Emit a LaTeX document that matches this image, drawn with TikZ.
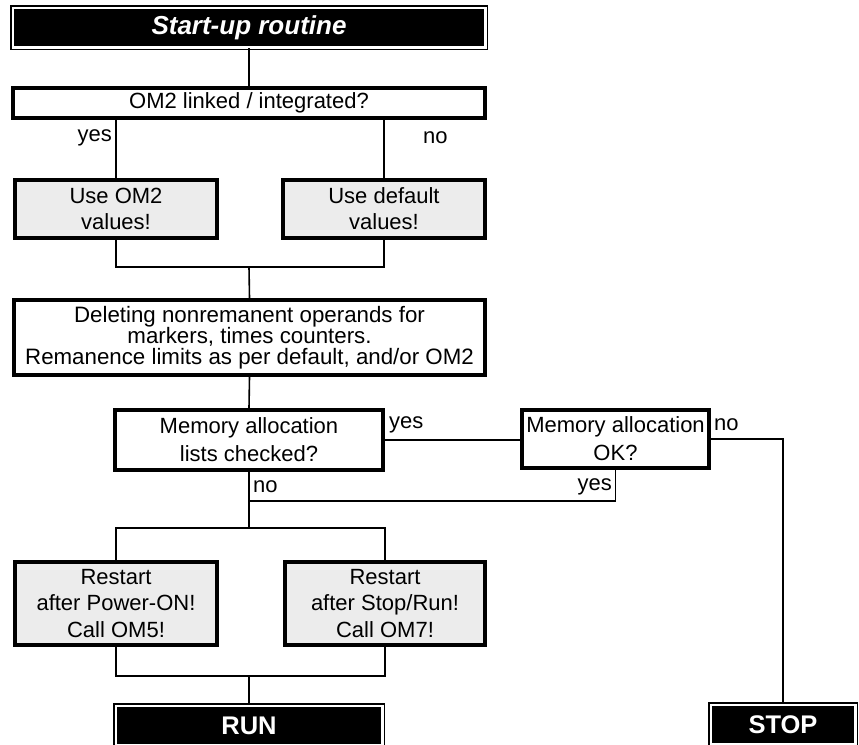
\documentclass[tikz,border=0pt]{standalone}
\usepackage{fontspec}
\setmainfont{Liberation Sans}
\definecolor{boxgray}{RGB}{236,236,236}
\begin{document}
\begin{tikzpicture}[x=1pt,y=-1pt,
  box/.style={draw=black, line width=3.8pt, fill=#1, inner sep=0pt, align=center,
    font=\fontsize{22}{26}\selectfont},
  box/.default=white,
  term/.style={draw=black, double=white, double distance=2.2pt, line width=1.5pt,
    fill=black, text=white, inner sep=0pt, minimum height=39.8pt,
    font=\fontsize{25.5}{30}\selectfont\bfseries},
  link/.style={line width=1.6pt},
  lbl/.style={inner sep=0pt, font=\fontsize{22}{26}\selectfont}]
\path[use as bounding box, clip] (0,0) rectangle (859,744);

% terminals
\node[term, font=\fontsize{26}{30}\selectfont\bfseries\itshape, minimum width=472.8pt]
  (start) at (249,27.5) {Start-up routine};
\node[term, minimum width=266.8pt] (run) at (249,725.5) {RUN};
\node[term, minimum width=144.8pt] (stop) at (783,724.5) {STOP};

% process and decision boxes
\node[box, minimum width=472pt, minimum height=30pt] (om2) at (249,103)
  {OM2 linked / integrated?};
\node[box=boxgray, minimum width=202pt, minimum height=58pt] (useom2) at (116,209)
  {Use OM2\\values!};
\node[box=boxgray, minimum width=202pt, minimum height=58pt] (usedef) at (384,209)
  {Use default\\values!};
\node[box, minimum width=471pt, minimum height=75pt,
  font=\fontsize{22.3}{20.5}\selectfont] (del) at (249.5,337.5)
  {Deleting nonremanent operands for\\markers, times counters.\\Remanence limits as per default, and/or OM2};
\node[box, minimum width=268pt, minimum height=60pt,
  font=\fontsize{22}{28}\selectfont] (mem1) at (249,440)
  {Memory allocation\\lists checked?};
\node[box, minimum width=187pt, minimum height=58pt,
  font=\fontsize{22}{28}\selectfont] (mem2) at (615.5,439)
  {Memory allocation\\OK?};
\node[box=boxgray, minimum width=202pt, minimum height=83pt,
  font=\fontsize{22}{26.5}\selectfont] (rs1) at (116,603.5)
  {Restart\\after Power-ON!\\Call OM5!};
\node[box=boxgray, minimum width=200pt, minimum height=83pt,
  font=\fontsize{22}{26.5}\selectfont] (rs2) at (385,603.5)
  {Restart\\after Stop/Run!\\Call OM7!};

% junction points
\coordinate (j1) at (249,267);
\coordinate (j2) at (249,501);
\coordinate (j3) at (249,528);
\coordinate (j4) at (249,676);

% connectors
\draw[link] (start.south) -- (om2.north);
\draw[link] (om2.south -| useom2.north) -- (useom2.north);
\draw[link] (om2.south -| usedef.north) -- (usedef.north);
\draw[link] (useom2.south) -- (useom2.south |- j1) -- (usedef.south |- j1) -- (usedef.south);
\draw[link] (j1) -- (del.north);
\draw[link] (del.south) -- (mem1.north);
\draw[link] (mem1.east) -- (mem1.east -| mem2.west);
\draw[link] (mem2.east) -| (stop.north);
\draw[link] (mem2.south) -- (mem2.south |- j2) -- (j2);
\draw[link] (mem1.south) -- (j3);
\draw[link] (rs1.north) -- (rs1.north |- j3) -- (rs2.north |- j3) -- (rs2.north);
\draw[link] (rs1.south) -- (rs1.south |- j4) -- (rs2.south |- j4) -- (rs2.south);
\draw[link] (j4) -- (run.north);

% branch labels
\node[lbl, anchor=east] (l1) at (112,138) {yes};
\node[lbl, anchor=west] (l2) at (423,138) {no};
\node[lbl, anchor=west] (l3) at (389,425) {yes};
\node[lbl, anchor=west] (l4) at (714,425) {no};
\node[lbl, anchor=east] (l5) at (612,487) {yes};
\node[lbl, anchor=west] (l6) at (253,487) {no};
\end{tikzpicture}
\end{document}
